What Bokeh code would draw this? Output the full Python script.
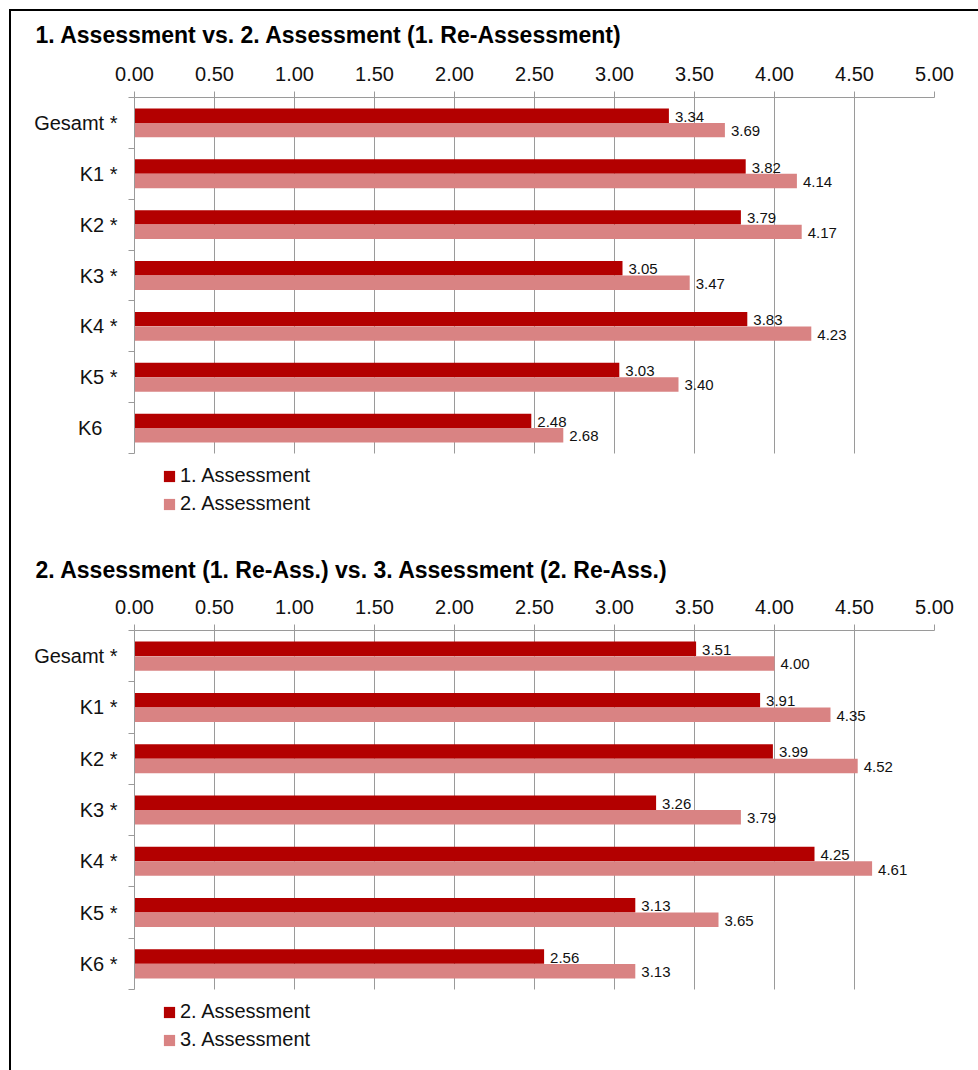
from bokeh.plotting import figure
from bokeh.models import (Range1d, LinearAxis, FixedTicker, NumeralTickFormatter,
                          Legend, LegendItem, ColumnDataSource, Grid, BoxAnnotation)
from bokeh.layouts import column
from bokeh.core.properties import value
from bokeh.embed import file_html
from bokeh.resources import INLINE

# ---- data -----------------------------------------------------------------
title_1 = "1. Assessment vs. 2. Assessment (1. Re-Assessment)"
cats_1 = ["Gesamt *", "K1 *", "K2 *", "K3 *", "K4 *", "K5 *", "K6"]
assess_1 = [3.34, 3.82, 3.79, 3.05, 3.83, 3.03, 2.48]
assess_2 = [3.69, 4.14, 4.17, 3.47, 4.23, 3.40, 2.68]
names_1 = ["1. Assessment", "2. Assessment"]

title_2 = "2. Assessment (1. Re-Ass.) vs. 3. Assessment (2. Re-Ass.)"
cats_2 = ["Gesamt *", "K1 *", "K2 *", "K3 *", "K4 *", "K5 *", "K6 *"]
assess_2b = [3.51, 3.91, 3.99, 3.26, 4.25, 3.13, 2.56]
assess_3 = [4.00, 4.35, 4.52, 3.79, 4.61, 3.65, 3.13]
names_2 = ["2. Assessment", "3. Assessment"]

x_ticks = [0.0, 0.5, 1.0, 1.5, 2.0, 2.5, 3.0, 3.5, 4.0, 4.5, 5.0]

# ---- style ----------------------------------------------------------------
FONT = "Liberation Sans"
DARK = "#B30000"
LIGHT = "#D98383"
GRID = "#9A9A9A"
INK = "#111111"
BAR_H = 0.283
SHIFT = 0.142
FIG_W = 967
LEFT = 123
TOP = 86


def make_chart(title, cats, first, second, names, frame_w, band_px, legend_px,
               legend_y, title_gap):
    """band_px: height of the bar area; legend_px: space kept below it for the legend."""
    n = len(cats)
    # first category on top: row index n-1 ... 0
    rows = [n - 1 - i for i in range(n)]
    src = ColumnDataSource(dict(
        row_a=[r + SHIFT for r in rows], row_b=[r - SHIFT for r in rows],
        first=first, second=second,
        first_lbl=[f"{v:.2f}" for v in first],
        second_lbl=[f"{v:.2f}" for v in second],
    ))
    # the frame reaches down into the legend area; axis and grid stop at the last row
    extra = legend_px * n / band_px
    p = figure(
        y_range=Range1d(-0.5 - extra, n - 0.5), x_range=Range1d(0, 5),
        width=FIG_W, height=TOP + band_px + legend_px,
        min_border_left=LEFT, min_border_right=FIG_W - LEFT - frame_w,
        min_border_top=TOP, min_border_bottom=0,
        x_axis_location=None, y_axis_location=None,
        output_backend="svg", toolbar_location=None,
        title=title,
    )
    p.grid.visible = False
    p.outline_line_color = None
    p.background_fill_color = "white"
    p.border_fill_color = "white"

    p.title.text_font = FONT
    p.title.text_font_size = "23px"
    p.title.text_font_style = "bold"
    p.title.text_color = "#000000"
    p.title.align = "left"
    p.title.offset = -99
    p.title.standoff = 0

    # vertical grid lines every 0.5
    p.add_layout(Grid(dimension=0, ticker=FixedTicker(ticks=x_ticks),
                      grid_line_color=GRID, grid_line_width=1))
    # keep the legend strip below the last row clear of grid lines
    p.add_layout(BoxAnnotation(top=-0.5, fill_color="white", fill_alpha=1.0,
                               line_color=None, level="underlay"))

    # value axis on top
    top = LinearAxis(ticker=FixedTicker(ticks=x_ticks),
                     formatter=NumeralTickFormatter(format="0.00"))
    top.axis_line_color = GRID
    top.major_tick_line_color = GRID
    top.major_tick_out = 6
    top.major_tick_in = 0
    top.minor_tick_line_color = None
    top.major_label_text_font = FONT
    top.major_label_text_font_size = "20px"
    top.major_label_text_color = INK
    top.major_label_standoff = 11
    p.add_layout(top, "above")

    # blank strip between the value axis and the title (invisible tick length)
    gap = LinearAxis(ticker=FixedTicker(ticks=[0]))
    gap.axis_line_color = None
    gap.major_tick_line_color = None
    gap.minor_tick_line_color = None
    gap.major_tick_out = title_gap
    gap.major_tick_in = 0
    gap.major_label_text_font_size = "1px"
    gap.major_label_text_color = None
    gap.major_label_standoff = 0
    p.add_layout(gap, "above")

    # category axis: boundary ticks (inner, unlabelled) and names (outer)
    band_axis = LinearAxis(ticker=FixedTicker(ticks=[k - 0.5 for k in range(n + 1)]),
                           bounds=(-0.5, n - 0.5))
    band_axis.axis_line_color = GRID
    band_axis.major_tick_line_color = GRID
    band_axis.major_tick_out = 6
    band_axis.major_tick_in = 0
    band_axis.minor_tick_line_color = None
    band_axis.major_label_text_font_size = "1px"
    band_axis.major_label_text_color = None
    band_axis.major_label_standoff = 0
    p.add_layout(band_axis, "left")

    name_axis = LinearAxis(ticker=FixedTicker(ticks=rows))
    name_axis.major_label_overrides = {
        r: (c if c.endswith("*") else c + "\u00a0\u00a0\u2009") for r, c in zip(rows, cats)}
    name_axis.axis_line_color = None
    name_axis.major_tick_line_color = None
    name_axis.minor_tick_line_color = None
    name_axis.major_tick_out = 0
    name_axis.major_tick_in = 0
    name_axis.major_label_text_font = FONT
    name_axis.major_label_text_font_size = "20px"
    name_axis.major_label_text_color = INK
    name_axis.major_label_standoff = 11
    p.add_layout(name_axis, "left")

    r1 = p.hbar(y="row_a", left=0, right="first", height=BAR_H,
                fill_color=DARK, line_color=None, source=src)
    r2 = p.hbar(y="row_b", left=0, right="second", height=BAR_H,
                fill_color=LIGHT, line_color=None, source=src)

    for col, lbl, row in (("first", "first_lbl", "row_a"), ("second", "second_lbl", "row_b")):
        p.text(x=col, y=row, text=lbl,
               x_offset=6, y_offset=1, text_baseline="middle", text_align="left",
               text_font=value(FONT), text_font_size="15px", text_color=INK,
               source=src)

    legend = Legend(items=[LegendItem(label=names[0], renderers=[r1]),
                           LegendItem(label=names[1], renderers=[r2])],
                    location=(28, legend_y), orientation="vertical")
    legend.glyph_width = 14
    legend.glyph_height = 14
    legend.label_text_font = FONT
    legend.label_text_font_size = "20px"
    legend.label_text_color = INK
    legend.label_standoff = 4
    legend.label_height = 20
    legend.spacing = 5
    legend.margin = 0
    legend.padding = 0
    legend.border_line_color = None
    legend.background_fill_alpha = 0
    p.add_layout(legend)
    return p


p1 = make_chart(title_1, cats_1, assess_1, assess_2, names_1, 800, 356, 91, 29, 16)
p2 = make_chart(title_2, cats_2, assess_2b, assess_3, names_2, 805, 359, 81, 19, 14)

page = column(p1, p2, margin=(9, 0, 0, 9), spacing=0,
              styles={"border-top": "2px solid #000", "border-left": "2px solid #000"})

open("out.html", "w").write(file_html(page, INLINE))
